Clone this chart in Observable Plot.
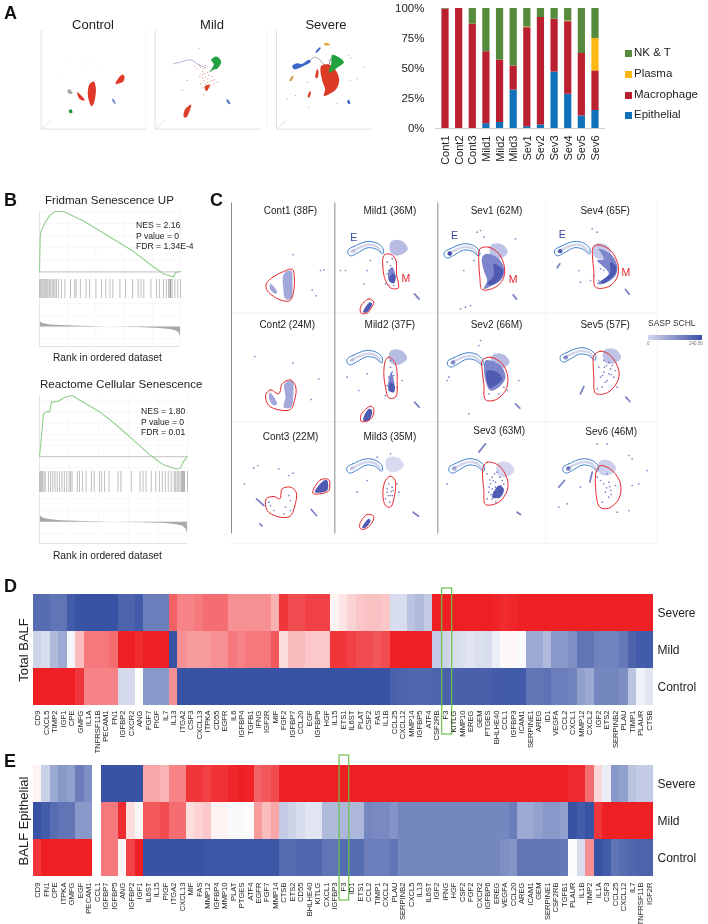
<!DOCTYPE html>
<html><head><meta charset="utf-8">
<style>
html,body{margin:0;padding:0;background:#fff}
#root{position:relative;width:708px;height:924px;overflow:hidden;font-family:"Liberation Sans",Arial,sans-serif;color:#222;filter:blur(0.3px)}
#root svg{position:absolute;overflow:visible;background:transparent}
.t{position:absolute;white-space:nowrap;line-height:1}
</style>
<script src="https://cdn.jsdelivr.net/npm/d3@7"></script>
<script src="https://cdn.jsdelivr.net/npm/@observablehq/plot@0.6"></script>
</head><body><div id="root"></div>
<script>
// ---------- Panel A: composition ----------
const samples=["Cont1","Cont2","Cont3","Mild1","Mild2","Mild3","Sev1","Sev2","Sev3","Sev4","Sev5","Sev6"];
const epithelial=[0,0,0,4,5,32,1.5,3,47,28.5,10.5,15];
const macrophage=[99.5,100,87,60,52,20,82.5,89.5,44,60.5,52,33];
const plasma=[0,0,0,0,0,0,0.5,0,0,0.5,0,27];
const nkT=[0.5,0,13,36,43,48,15.5,7.5,9,10.5,37.5,25];
const cellTypes=["Epithelial","Macrophage","Plasma","NK & T"];
const cellColors=["#1072b9","#bb2030","#fdb913","#568a3c"];
const legendRows=["NK & T","Plasma","Macrophage","Epithelial"];

// ---------- Panel B: enrichment ----------
const fridmanRank=[0,0.5,1,4,7.6,11,17,31,50,67,79,88,95,96.5,100];
const fridmanES=[0,0.288,0.329,0.41,0.47,0.5,0.5,0.424,0.288,0.166,0.057,-0.016,-0.043,-0.005,0.003];
const fridmanHits=[0,0.8,1.6,2.5,3.3,4.2,5.2,6,7,8,9,10,11,12,13.4,15.5,18,22,25,26,29,33,35.5,40,44,47,50,52,57,61,66,70,72,74,79,83,85,88,90,91.5,92.5,92.8,93.1,94,96,98,100];
const reactomeRank=[0,0.9,2.7,5,6.8,8.1,12.7,17.2,22,27.6,41,52.1,63.5,74.7,83.7,92.8,95,97.3,100];
const reactomeES=[0,0.119,0.387,0.407,0.401,0.49,0.499,0.535,0.55,0.505,0.4,0.282,0.149,0.015,-0.074,-0.113,-0.104,-0.045,0.006];
const reactomeHits=[0,0.7,1.4,2.1,3,3.9,6,7.5,9,10.5,12,13.6,15.2,16.8,18.4,20,21,22,25.5,27,29,31.5,35,37,40.5,42,44,47,53,55,62,68,70,72,75.5,78.5,81,83,85,87,89,91,92,93,94,95,96,96.5,97,97.5,98,100];
const metricRank=[0,0.5,1.5,4,8,15,30,50,70,85,93,97,99,100];
const fridmanMetric=[0.8,0.5,0.34,0.26,0.18,0.12,0.06,0,-0.05,-0.12,-0.22,-0.34,-0.52,-0.8];
const reactomeMetric=[0.9,0.6,0.42,0.3,0.2,0.13,0.06,0,-0.05,-0.12,-0.22,-0.36,-0.6,-0.95];

// ---------- Panel A: embedding shapes ----------
const controlShapes=[
 {fill:"#e0392a",pts:[[262,272],[268,250],[280,243],[286,262],[285,285],[280,308],[273,317],[265,300]]},
 {fill:"#e0392a",pts:[[345,250],[365,222],[372,228],[368,243]]},
 {fill:"#e0392a",pts:[[230,275],[250,293],[252,300],[238,296]]},
 {fill:"#a9a0a0",pts:[[200,270],[207,266],[216,278],[206,280]]},
 {fill:"#1c9a3a",pts:[[205,330],[212,326],[216,336],[208,338]]},
 {fill:"#7d9ad8",pts:[[334,296],[338,294],[346,310],[342,310]]}];
const mildShapes=[
 {fill:"#20a040",pts:[[632,178],[648,168],[662,183],[652,203],[638,208],[627,215],[640,192]]},
 {fill:"#d9412b",pts:[[550,350],[553,328],[572,312],[568,330],[558,350]]},
 {fill:"#d9412b",pts:[[612,258],[628,252],[618,272]]},
 {fill:"#5f7fd0",pts:[[677,298],[682,297],[690,310],[685,311]]}];
const severeShapes=[
 {fill:"#dd3a26",pts:[[962,196],[985,192],[1006,210],[1016,238],[1008,265],[988,280],[970,286],[974,266],[965,240]]},
 {fill:"#1fa03c",pts:[[995,163],[1015,170],[1030,185],[1012,200],[996,212],[985,216],[992,190]]},
 {fill:"#3b68c8",pts:[[876,195],[890,188],[905,190],[925,178],[931,183],[906,198],[885,206],[877,203]]},
 {fill:"#dd3a26",pts:[[945,232],[950,206],[953,208],[951,232]]},
 {fill:"#dd3a26",pts:[[922,290],[928,272],[931,274],[927,290]]},
 {fill:"#e8a83a",pts:[[970,131],[976,127],[990,133],[976,135]]},
 {fill:"#3b68c8",pts:[[945,155],[958,140],[961,142],[948,157]]},
 {fill:"#d09a50",pts:[[867,240],[876,226],[879,228],[871,242]]},
 {fill:"#3b68c8",pts:[[1040,303],[1045,297],[1049,310],[1044,310]]}];
const mildStrands=[[[518,190],[540,185],[570,178],[590,190],[618,202]]];
const severeStrands=[[[925,182],[945,170],[970,192]],[[990,175],[985,195]]];
const mildSpecks=[[600,200],[610,205],[620,215],[605,222],[615,230],[625,225],[635,240],[610,240],[620,245],[630,255],[600,250],[640,250],[650,245],[610,283],[560,240],[545,270],[595,145],[615,195],[605,262],[596,195],[606,212],[612,218],[622,235],[616,252],[606,232],[628,242],[634,228],[642,238],[598,228],[590,205],[583,198],[628,262],[614,262]];
const controlSpecks=[[195,185],[205,182],[250,190],[285,175],[290,205],[245,200],[175,235]];
const severeSpecks=[[1045,165],[1052,172],[1050,240],[1070,235],[1010,308],[1090,200],[885,285],[925,320],[860,295],[920,245],[985,180]];
const umapFrames=[
 [[122,90],[122,386],[436,386]],[[122,386],[150,360]],
 [[464,90],[464,386],[780,386]],[[464,386],[492,360]],
 [[828,90],[828,386],[1110,386]],[[828,386],[856,360]]];
const umapFaintFrames=[[[436,90],[436,380]],[[800,90],[800,380]]];

// ---------- Panel C: embedding shapes ----------
const eOutline=[[383,178],[400,168],[440,153],[470,158],[488,175],[487,190],[465,175],[440,172],[410,188],[392,196],[383,190]];
const eStripe=[[393,183],[440,163],[465,166],[482,183]];
const topBlob=[[510,155],[530,148],[550,155],[562,175],[548,190],[525,195],[510,185]];
const panelsEOffset=[[0,0],[-3,327],[-3,652],[289,7],[299,334],[303,652],[620,0],[637,319],[645,652]];
const eEndDark=[0.2,0.15,0.15,1,0.6,0.4,0.9,0.6,0.7];
const panelsBlobOffset=[[0,0],[-2,328],[-12,650],[300,10],[305,340],[320,665],[610,10],[640,325],[625,660]];
const blobOpacity=[1,1,0.55,0.9,1,0.6,0.8,0.9,0.7];
const mOutlines=[
 [[137,280],[160,258],[190,243],[215,236],[222,270],[215,320],[207,331],[185,330],[160,318],[140,300]],
 [[135,615],[150,598],[175,610],[185,580],[210,568],[226,590],[222,630],[210,657],[175,658],[145,645]],
 [[137,925],[160,918],[178,925],[185,895],[210,890],[227,905],[222,950],[208,978],[170,978],[140,960]],
 [[277,908],[300,868],[325,868],[325,900],[310,908]],
 [[490,195],[505,190],[525,205],[528,250],[533,293],[510,292],[495,270],[487,230]],
 [[495,510],[505,500],[525,520],[530,570],[525,620],[505,622],[495,590],[490,550]],
 [[495,870],[510,857],[524,870],[520,925],[510,950],[495,945],[487,910]],
 [[420,350],[445,325],[460,335],[452,352],[440,368],[422,368]],
 [[422,672],[450,647],[460,655],[455,680],[440,692],[422,692]],
 [[418,1000],[440,972],[460,978],[452,1000],[435,1015],[420,1015]],
 [[778,175],[805,170],[835,190],[852,230],[848,265],[825,290],[785,297],[778,260],[775,215]],
 [[785,510],[810,500],[845,520],[862,560],[855,600],[825,628],[795,628],[790,580],[785,540]],
 [[788,830],[800,815],[835,825],[860,865],[860,900],[835,935],[795,942],[790,900]],
 [[1118,170],[1135,163],[1170,180],[1192,220],[1190,260],[1165,288],[1125,290],[1120,240],[1116,200]],
 [[1120,495],[1140,482],[1170,495],[1195,540],[1190,575],[1160,607],[1125,608],[1120,560],[1118,520]],
 [[1128,840],[1140,825],[1175,840],[1200,880],[1195,925],[1165,953],[1138,950],[1125,890]]];
const lightMasses=[
 [[190,250],[212,240],[216,280],[212,325],[195,325],[188,290]],
 [[150,280],[170,305],[165,310],[148,295]],
 [[192,580],[215,570],[218,620],[212,650],[190,650],[195,620]],
 [[148,605],[170,640],[160,645],[146,625]]];
const midMasses=[
 [[800,190],[835,205],[852,240],[840,270],[815,285],[790,295],[800,270],[790,240],[785,200]],
 [[795,510],[840,525],[855,560],[835,590],[810,600],[795,570]],
 [[1135,175],[1170,190],[1190,225],[1185,255],[1150,280],[1130,280],[1165,250],[1145,225],[1130,210],[1150,205]],
 [[505,240],[515,230],[525,255],[520,278],[505,270]],
 [[503,580],[512,545],[522,580],[520,605],[505,600]]];
const darkMasses=[
 [[820,220],[848,240],[838,268],[812,284],[800,280],[820,255]],
 [[800,540],[830,545],[845,565],[825,585],[808,592],[798,568]],
 [[1170,215],[1188,230],[1183,252],[1150,278],[1140,275],[1168,250]],
 [[283,905],[310,870],[320,870],[320,900]],
 [[505,270],[515,250],[525,255],[520,278]],
 [[428,365],[448,335],[455,340],[440,365]],
 [[428,690],[445,655],[455,660],[445,690]],
 [[505,600],[510,575],[522,585],[520,605]],
 [[425,1012],[445,985],[450,990],[435,1012]],
 [[815,920],[835,885],[850,895],[840,920]]];
const slivers=[
 [[582,310],[596,326]],[[878,313],[888,326]],[[1215,297],[1226,311]],[[582,635],[596,650]],
 [[885,640],[898,653]],[[1216,620],[1228,633]],[[578,965],[594,977]],[[1080,610],[1090,588]],
 [[1108,875],[1115,845]],[[1015,890],[1032,870]],[[775,785],[795,760]],[[1010,232],[1018,220]],
 [[108,925],[130,945]],[[272,957],[288,975]],[[890,965],[900,972]],[[118,1000],[125,1006]]];
const scatterDots=[[218,192],[300,240],[310,238],[275,298],[287,316],[103,498],[217,518],[272,627],[295,565],
 [100,833],[112,825],[175,835],[205,855],[218,848],[72,880],[150,945],[160,960],[190,970],[205,915],[210,930],[195,950],[145,935],[210,960],
 [500,215],[510,225],[505,240],[515,235],[500,250],[495,280],[505,285],[520,285],[440,240],[430,280],[375,240],[360,240],[450,210],[515,205],
 [510,530],[515,545],[505,560],[520,555],[500,585],[530,590],[545,570],[440,550],[415,600],[380,560],[495,615],[510,510],
 [505,880],[515,890],[500,905],[510,915],[495,925],[518,900],[508,935],[530,880],[535,905],[470,800],[510,790],[410,905],[440,870],[512,903],[504,915],[500,895],[516,915],
 [770,125],[780,120],[790,140],[730,240],[760,210],[885,145],[735,350],[720,355],[750,345],
 [780,450],[775,465],[685,560],[680,570],[895,570],[745,670],[860,600],[850,590],[835,610],[805,610],[840,560],
 [1115,115],[1130,125],[1075,240],[1080,275],[1110,270],[1140,235],[1120,255],[1150,240],[1135,270],
 [1150,510],[1165,515],[1175,525],[1150,545],[1165,550],[1185,540],[1140,560],[1160,570],[1180,560],[1135,530],[1145,590],[1190,590],[1130,595],[1158,525],[1170,535],[1152,530],[1146,555],[1172,552],[1155,575],
 [800,850],[815,860],[830,845],[845,870],[810,880],[825,890],[840,895],[805,905],[820,905],[835,910],[815,925],[825,875],[850,880],[800,925],[815,895],[828,920],[680,880],[822,850],[838,860],[808,868],[848,900],[812,912],[830,900],[842,885],[818,870],[806,890],[826,935],
 [1140,870],[1150,880],[1165,875],[1155,905],[1170,900],[1145,935],[1185,885],[1165,920],[1130,860],[1160,850],[1235,805],[1225,795],[1280,840],[1235,885],[1255,880],[1190,965],[1225,960],[1080,890],[1040,940],[1015,950],[1130,760],[1160,760],[1168,888],[1158,892],[1172,912]];
const panelTitles=["Cont1 (38F)","Mild1 (36M)","Sev1 (62M)","Sev4 (65F)","Cont2 (24M)","Mild2 (37F)","Sev2 (66M)","Sev5 (57F)","Cont3 (22M)","Mild3 (35M)","Sev3 (63M)","Sev6 (46M)"];
const titleX=[210,508,828,1154,200,508,828,1154,210,508,836,1172];
const titleY=[60,60,60,60,403,403,403,403,738,738,722,725];
const regionE=[[400,140],[702,135],[1025,133]];
const regionM=[[556,264],[878,266],[1216,246]];

// ---------- Panels D, E: heatmaps ----------
const rowsHeat=["Severe","Mild","Control"];
const genesD=["CD9","CXCL5","TIMP2","IGF1","CPE","GMFG","IL1A","TNFRSF11B","PECAM1","FN1","IGFBP2","CXCR2","ANG","FGF7","PIGF","IL7","IL13","ITGA2","CSF3","CXCL13","ITPKA","CD55","EGFR","IL6","IGFBP4","TGFB1","IFNG","IGF2R","MIF","FGF2","IGFBP7","CCL20","EGF","IGFBP6","HGF","IL15","ETS1","IL6ST","PLAT","CSF2","FAS","IL1B","CCL25","CXCL12","MMP14","IGFBP5","ATF4","CSF2RB","F3","KITLG","MMP10","EREG","GEM","PTGES","BHLHE40","CCL1","IGFBP3","ICAM1","SERPINE1","AREG","ID1","VEGFA","CCL2","CXCL1","MMP12","CXCL2","IGF2","ETS2","SERPINB2","PLAU","TIMP1","PLAUR","CTSB"];
const severeD=[-.85,-.85,-.8,-.8,-.95,-1,-1,-1,-1,-1,-.9,-.9,-.95,-.75,-.75,-.75,.7,.55,.55,.6,.65,.65,.65,.5,.5,.5,.5,.5,.35,.9,.8,.8,.85,.85,.85,.05,.12,.2,.25,.28,.28,.25,-.2,-.2,-.35,-.4,-.3,1,1,1,1,1,1,1,.98,.95,.97,1,1,1,1,1,1,1,1,1,1,1,1,1,1,1,1];
const mildD=[-.25,-.2,-.4,-.5,-.05,.3,.6,.6,.6,.65,1,1,.95,1,1,1,-1,.5,.45,.45,.45,.5,.5,.6,.55,.6,.6,.6,.75,.15,.3,.3,.25,.25,.25,.9,.9,.85,.8,.8,.75,.8,1,1,1,1,1,-.3,-.25,-.2,-.18,-.15,-.18,-.2,-.1,.03,.03,-.03,-.5,-.5,-.4,-.6,-.6,-.65,-.8,-.8,-.72,-.72,-.72,-.78,-.9,-.95,-.95];
const controlD=[1,1,1,1,1,.9,.55,.55,.55,.55,-.22,-.22,0,-.6,-.6,-.6,.5,-1,-1,-1,-1,-1,-1,-1,-1,-1,-1,-1,-1,-1,-1,-1,-1,-1,-1,-1,-1,-1,-1,-1,-1,-1,-.92,-.9,-.88,-.88,-.88,-.9,-.92,-.92,-.92,-.92,-.92,-.92,-.94,-.95,-.95,-.95,-.8,-.8,-.82,-.75,-.75,-.72,-.55,-.5,-.7,-.7,-.7,-.65,-.35,-.08,-.15];
const genesE=["CD9","FN1","CPE","ITPKA","GMFG","EGF","PECAM1","CCL1","IGFBP7","IGFBP5","ANG","IGFBP2","IGF1","IL6ST","IL15","PIGF","ITGA2","CXCL13","MIF","FAS","MMP12","IGFBP4","MMP10","PLAT","PTGES","ATF4","EGFR","FGF7","MMP14","CTSB","ETS2","CD55","BHLHE40","KITLG","CXCL1","IGFBP3","F3","ID1","ETS1","CCL2","TIMP1","CXCL2","PLAU","SERPINB2","CXCL5","IL13","IL6ST","IGF2","IFNG","HGF","CSF2","FGF2","CXCR2","IGFBP6","EREG","VEGFA","CCL20","AREG","ICAM1","GEM","SERPINE1","CSF2RB","TGFB1","PLAUR","IL1B","TIMP2","IL1A","CSF3","CCL25","CXCL12","IL7","TNFRSF11B","IGF2R"];
const severeE=[.05,-.28,-.5,-.6,-.55,-.75,-.65,0,-1,-1,-1,-1,-1,.4,.4,.33,.55,.55,.9,.9,.85,.92,.92,.97,1,.98,.7,.75,.8,1,1,1,1,1,1,1,1,1,1,1,1,1,1,1,1,1,1,1,1,1,1,1,1,1,1,1,1,1,1,1,1,1,1,.95,.95,.65,.18,-.1,-.6,-.55,-.35,-.3,-.3];
const mildE=[-1,-.95,-.85,-.8,-.8,-.6,-.6,0,.6,.6,.95,.15,.03,.75,.75,.8,.65,.65,.15,.2,.25,.05,.05,-.03,-.03,.02,.45,.3,.4,-.3,-.25,-.2,-.15,-.15,-.4,-.4,-.42,-.42,-.42,-.7,-.68,-.68,-.62,-.7,-.7,-.7,-.7,-.7,-.7,-.7,-.7,-.7,-.7,-.7,-.7,-.7,-.75,-.5,-.5,-.55,-.6,-.6,-.55,-1,-.95,-1,.9,1,1,1,1,1,1];
const controlE=[.9,1,1,1,1,1,1,0,.6,.6,.05,.85,1,-1,-1,-1,-1,-1,-1,-1,-.98,-.98,-.98,-.98,-.98,-.98,-.98,-.98,-.98,-.85,-.85,-.88,-.88,-.88,-.8,-.8,-.85,-.85,-.85,-.75,-.75,-.75,-.8,-.7,-.7,-.7,-.7,-.7,-.7,-.7,-.7,-.7,-.7,-.7,-.7,-.65,-.62,-.8,-.8,-.8,-.8,-.8,-.78,-.02,-.2,.5,-1,-.95,-.8,-.85,-.88,-.9,-.9];

const FONT='"Liberation Sans",Arial,sans-serif';
const root=document.getElementById("root");
function place(svg,left,top){svg.style.left=left+"px";svg.style.top=top+"px";root.appendChild(svg);return svg;}
function label(text,x,y,o={}){const d=document.createElement("div");d.className="t";d.textContent=text;
  d.style.fontSize=(o.size||11)+"px";d.style.fontWeight=o.weight||"normal";d.style.color=o.color||"#222";
  d.style.left=x+"px";d.style.top=y+"px";
  d.style.transform=(o.center?"translate(-50%,-50%)":"translateY(-50%)");
  root.appendChild(d);return d;}
const baseStyle={fontFamily:FONT,background:"transparent",overflow:"visible",color:"#222"};

// panel letters
[["A",4,13],["B",4,200],["C",210,200],["D",4,586],["E",4,761]].forEach(([t,x,y])=>label(t,x,y,{size:18,weight:"bold",color:"#111"}));

// ---- A: embedding ----
const shapeMarks=list=>list.map(s=>Plot.line(s.pts,{x:d=>d[0],y:d=>d[1],fill:s.fill,stroke:"none",curve:"catmull-rom-closed",fillOpacity:s.opacity??1}));
const xyDot=(pts,o)=>Plot.dot(pts,{x:d=>d[0],y:d=>d[1],...o});
const xyLine=(pts,o)=>Plot.line(pts,{x:d=>d[0],y:d=>d[1],...o});
place(Plot.plot({width:370,height:140,margin:0,style:baseStyle,
  x:{domain:[0,1110],range:[0,370],axis:null},y:{domain:[0,420],range:[0,140],axis:null},
  marks:[
    ...umapFrames.map(f=>xyLine(f,{stroke:"#e2e2e2",strokeWidth:1})),
    ...umapFaintFrames.map(f=>xyLine(f,{stroke:"#f4f4f4",strokeWidth:1})),
    ...mildStrands.map(f=>xyLine(f,{stroke:"#8f9fc8",strokeWidth:0.8,curve:"catmull-rom"})),
    ...severeStrands.map(f=>xyLine(f,{stroke:"#9a9aa8",strokeWidth:1,curve:"catmull-rom"})),
    ...shapeMarks(controlShapes),...shapeMarks(mildShapes),...shapeMarks(severeShapes),
    xyDot(mildSpecks,{r:0.5,fill:"#c9604c"}),
    xyDot(controlSpecks,{r:0.4,fill:"#bbb"}),
    xyDot(severeSpecks,{r:0.6,fill:"#b0a8a0"})
  ]}),0,0);
[["Control",93],["Mild",212],["Severe",326]].forEach(([t,x])=>label(t,x,24,{size:13,center:true}));

// ---- A: stacked bars ----
const barRows=samples.flatMap((s,i)=>[
  {sample:s,type:"Epithelial",value:epithelial[i]},{sample:s,type:"Macrophage",value:macrophage[i]},
  {sample:s,type:"Plasma",value:plasma[i]},{sample:s,type:"NK & T",value:nkT[i]}]);
place(Plot.plot({width:235,height:180,marginLeft:65,marginRight:0,marginTop:8,marginBottom:52,style:baseStyle,
  x:{domain:samples,padding:0.47,round:false,label:null},y:{domain:[0,100],label:null},
  color:{domain:cellTypes,range:cellColors},
  marks:[
    Plot.barY(barRows,{x:"sample",y:"value",fill:"type",order:cellTypes}),
    Plot.ruleY([0],{stroke:"#cfcfcf",strokeWidth:1.2}),
    Plot.axisX({tickRotate:-90,tickSize:0,tickPadding:7,fontSize:11,label:null}),
    Plot.axisY({ticks:[0,25,50,75,100],tickFormat:d=>d+"%",tickSize:0,tickPadding:11,fontSize:11.5,label:null})
  ]}),370,0);
const legendY=[53,74,95,115];
legendRows.forEach((t,i)=>{
  const sw=document.createElement("div");sw.style.cssText=`position:absolute;left:625px;top:${legendY[i]-3.5}px;width:7px;height:7px;background:${cellColors[cellTypes.indexOf(t)]}`;
  root.appendChild(sw);label(t,634,legendY[i],{size:11.5});
});

// ---- B: GSEA ----
function gsea(cfg){
  const w=cfg.x1-cfg.x0;
  const rows=cfg.rank.map((r,i)=>({r,es:cfg.es[i]}));
  const grid=[0,20,40,60,80,100];
  const xs={domain:[0,100],axis:null};
  place(Plot.plot({width:w,height:cfg.h1,margin:0,style:baseStyle,x:xs,y:{domain:cfg.esDomain,axis:null},marks:[
    Plot.gridX(grid,{stroke:"#f7f7f7",strokeOpacity:1}),
    Plot.gridY(cfg.esGrid,{stroke:"#f7f7f7",strokeOpacity:1}),
    Plot.ruleY([0],{stroke:"#cfcfcf",strokeWidth:1.2}),
    Plot.ruleX([0],{stroke:"#e6e6e6"}),
    Plot.line(rows,{x:"r",y:"es",stroke:"#93cf8e",strokeWidth:1.1})
  ]}),cfg.x0,cfg.y0);
  place(Plot.plot({width:w,height:cfg.h2,margin:0,style:baseStyle,x:xs,y:{domain:[0,1],axis:null},marks:[
    Plot.ruleX(cfg.hits,{stroke:"#555",strokeOpacity:0.55,strokeWidth:0.7})
  ]}),cfg.x0,cfg.y0+cfg.h1+1);
  const mRows=metricRank.map((r,i)=>({r,m:cfg.metric[i]}));
  place(Plot.plot({width:w,height:cfg.h3,margin:0,style:baseStyle,x:xs,y:{domain:cfg.mDomain,axis:null},marks:[
    Plot.gridX(grid,{stroke:"#f7f7f7",strokeOpacity:1}),
    Plot.gridY([-1,0,1,2],{stroke:"#f7f7f7",strokeOpacity:1}),
    Plot.areaY(mRows,{x:"r",y:"m",fill:"#a8a8a8"}),
    Plot.ruleY([cfg.mDomain[0]],{stroke:"#e0e0e0"}),
    Plot.ruleX([0],{stroke:"#e6e6e6"})
  ]}),cfg.x0,cfg.y0+cfg.h1+cfg.h2+2);
}
gsea({x0:39,x1:180,y0:211,h1:67,h2:19,h3:47,rank:fridmanRank,es:fridmanES,hits:fridmanHits,metric:fridmanMetric,
  esDomain:[-0.055,0.5],esGrid:[0,.1,.2,.3,.4,.5],mDomain:[-1.66,2.34]});
gsea({x0:39,x1:187,y0:395,h1:75,h2:21,h3:50,rank:reactomeRank,es:reactomeES,hits:reactomeHits,metric:reactomeMetric,
  esDomain:[-0.125,0.55],esGrid:[-.1,0,.1,.2,.3,.4,.5],mDomain:[-1.83,2.46]});
label("Fridman Senescence UP",45,200,{size:11.6});
label("NES = 2.16",136,225,{size:8.6});label("P value = 0",136,235.5,{size:8.6});label("FDR = 1.34E-4",136,246,{size:8.6});
label("Rank in ordered dataset",53,358,{size:10.2});
label("Reactome Cellular Senescence",40,384,{size:11.6});
label("NES = 1.80",141,411,{size:8.6});label("P value = 0",141,421.5,{size:8.6});label("FDR = 0.01",141,432,{size:8.6});
label("Rank in ordered dataset",53,556,{size:10.2});

// ---- C: per-patient SASP maps ----
const shift=(pts,[dx,dy])=>pts.map(([x,y])=>[x+dx,y+dy]);
const cMarks=[
  Plot.ruleX([976,1310],{y1:38,y2:1055,stroke:"#f1f1f1"}),
  Plot.ruleY([368,695],{x1:33,x2:1310,stroke:"#eeeeee"}),
  Plot.ruleY([1058],{x1:33,x2:1310,stroke:"#f1f1f1"}),
  Plot.ruleX([33,343,652],{y1:38,y2:1030,stroke:"#8a8a8a",strokeWidth:1}),
  ...panelsBlobOffset.map((o,i)=>xyLine(shift(topBlob,o),{fill:"#b8bce2",fillOpacity:blobOpacity[i],stroke:"none",curve:"catmull-rom-closed"})),
  ...lightMasses.map(m=>xyLine(m,{fill:"#a3a8da",stroke:"none",curve:"catmull-rom-closed"})),
  ...midMasses.map(m=>xyLine(m,{fill:"#7d86cc",stroke:"none",curve:"catmull-rom-closed"})),
  ...darkMasses.map(m=>xyLine(m,{fill:"#4f5bb2",stroke:"none",curve:"catmull-rom-closed"})),
  ...slivers.map(m=>xyLine(m,{stroke:"#7c84c8",strokeWidth:1.8,strokeLinecap:"round"})),
  ...panelsEOffset.map(o=>xyLine(shift(eStripe,o),{stroke:"#d3d5ea",strokeWidth:2.4,curve:"catmull-rom"})),
  ...panelsEOffset.map((o,i)=>xyDot(shift([[396,182]],[o[0]+3,o[1]]),{r:2.2,fill:"#3f4ca8",fillOpacity:eEndDark[i]})),
  xyDot(scatterDots,{r:0.85,fill:"#5a66ba",fillOpacity:0.8}),
  ...panelsEOffset.map(o=>xyLine(shift(eOutline,o),{stroke:"#3f7fcb",strokeWidth:1,curve:"catmull-rom-closed"})),
  ...mOutlines.map(m=>xyLine(m,{stroke:"#e3262c",strokeWidth:1,curve:"catmull-rom-closed"})),
  Plot.text(panelTitles,{x:(d,i)=>titleX[i],y:(d,i)=>titleY[i],fontSize:10,fill:"#222"}),
  Plot.text(regionE,{x:d=>d[0],y:d=>d[1],text:()=>"E",fontSize:10.5,fill:"#36459c"}),
  Plot.text(regionM,{x:d=>d[0],y:d=>d[1],text:()=>"M",fontSize:10.5,fill:"#e3262c"})
];
place(Plot.plot({width:488,height:360,margin:0,style:baseStyle,
  x:{domain:[0,1464],range:[0,488],axis:null},y:{domain:[0,1080],range:[0,360],axis:null},marks:cMarks}),220,190);
label("SASP SCHL",648,323,{size:8.5,color:"#333"});
const bar=document.createElement("div");bar.style.cssText="position:absolute;left:648px;top:335px;width:54px;height:5px;background:linear-gradient(90deg,#d5d7ee,#3a4ea6)";root.appendChild(bar);
label("0",647,344,{size:4.5,color:"#777"});label("240.56",689,344,{size:4.5,color:"#777"});

// ---- D, E: heatmaps ----
function heat(cfg){
  const rows=cfg.genes.flatMap((g,i)=>[
    {i,row:"Severe",v:cfg.severe[i]},{i,row:"Mild",v:cfg.mild[i]},{i,row:"Control",v:cfg.control[i]}]);
  const f3=cfg.genes.indexOf("F3");
  const idx=d3.range(cfg.genes.length);
  place(Plot.plot({width:708,height:cfg.height,marginLeft:33,marginRight:55,marginTop:cfg.top,marginBottom:cfg.height-cfg.top-cfg.plotH,style:baseStyle,
    x:{domain:idx,padding:0,round:false,label:null},
    y:{domain:rowsHeat,padding:0,round:false,label:null},
    color:{type:"linear",domain:[-1,0,1],range:["#3953a4","#ffffff","#ee2024"]},
    marks:[
      Plot.cell(rows,{x:"i",y:"row",fill:"v",shapeRendering:"crispEdges"}),
      Plot.cell([f3],{x:d=>d,fill:"none",stroke:"#6cc04a",strokeWidth:1.2,insetTop:-cfg.boxUp,insetBottom:-cfg.boxDown,insetLeft:cfg.boxL,insetRight:cfg.boxR}),
      Plot.axisX({ticks:idx,tickFormat:i=>cfg.genes[i],tickRotate:-90,tickSize:0,tickPadding:cfg.pad,fontSize:7.6,label:null}),
      Plot.axisY({anchor:"right",tickSize:0,tickPadding:4,fontSize:12,label:null})
    ]}),0,cfg.y);
  const d=label(cfg.side,23,cfg.y+cfg.top+cfg.plotH/2,{size:13,center:true});
  d.style.transform="translate(-50%,-50%) rotate(-90deg)";
}
heat({y:575,height:175,top:19,plotH:111,genes:genesD,severe:severeD,mild:mildD,control:controlD,side:"Total BALF",boxUp:6,boxDown:29,boxL:1,boxR:-2.5,pad:5});
heat({y:750,height:174,top:15,plotH:111,genes:genesE,severe:severeE,mild:mildE,control:controlE,side:"BALF Epithelial",boxUp:10,boxDown:24,boxL:0.3,boxR:-1.5,pad:6});
</script></body></html>
